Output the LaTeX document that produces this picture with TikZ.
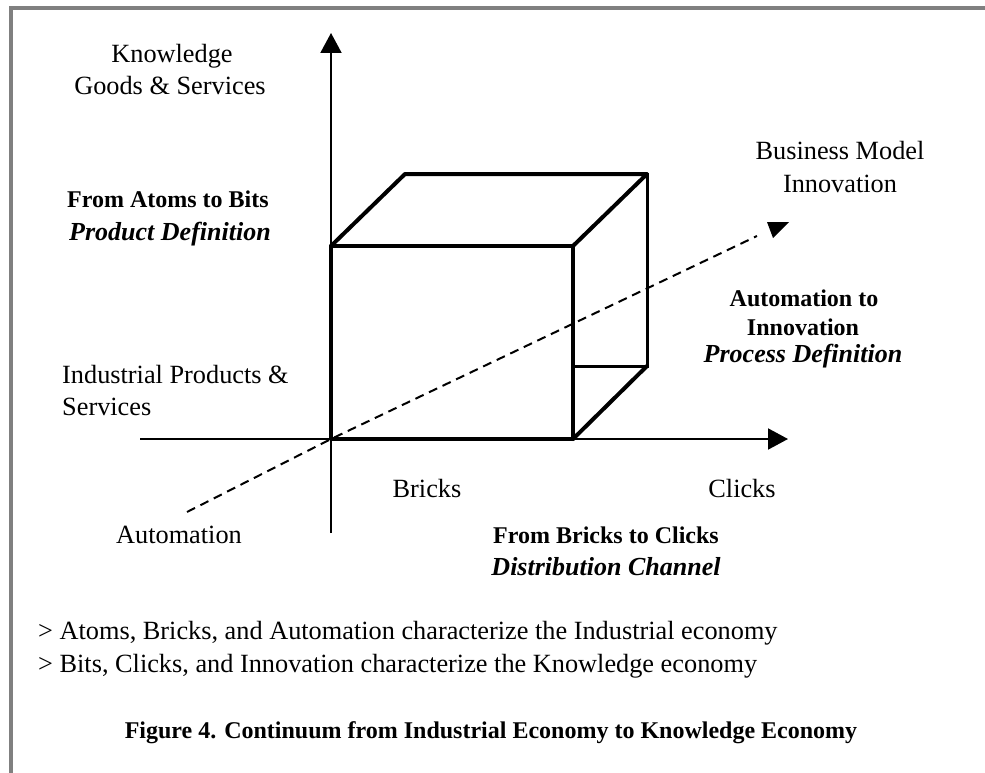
\documentclass[tikz,border=0pt]{standalone}
\usepackage{fontspec}
\setmainfont{Liberation Serif}
\usetikzlibrary{arrows.meta}
\definecolor{framegray}{RGB}{128,128,128}
\tikzset{
	axisarrow/.style={line width=2pt,-{Triangle[width=21pt,length=20pt]}},
	cubeedge/.style={line width=4pt,line cap=round,line join=round},
	cubeback/.style={line width=3pt,line cap=round},
	plainlabel/.style={inner sep=0pt,anchor=base,font=\fontsize{26.3}{31}\selectfont},
	boldlabel/.style={inner sep=0pt,anchor=base,font=\fontsize{24}{31}\selectfont\bfseries},
	italiclabel/.style={inner sep=0pt,anchor=base,font=\fontsize{26}{31}\selectfont\bfseries\itshape},
}

\begin{document}
\begin{tikzpicture}[x=1pt,y=-1pt]
				\useasboundingbox (0,0) rectangle (985,773);
				\draw[framegray,line width=4pt] (11,773) -- (11,8) -- (985,8);
				\coordinate (O) at (331,439);
				\coordinate (ytip) at (331,33);
				\coordinate (ybot) at (331,533);
				\coordinate (xleft) at (140,439);
				\coordinate (xtip) at (788,439);
				\coordinate (fbr) at (573,439);
				\coordinate (ftr) at (573,246);
				\coordinate (ftl) at (331,246);
				\coordinate (btl) at (405,174);
				\coordinate (btr) at (647,174);
				\coordinate (bbr) at (647,366);
				\coordinate (mid) at (573,366);
				\coordinate (autostart) at (187,512);
				\coordinate (innoend) at (757,236);
				\draw[axisarrow] (ybot) -- (ytip);
				\draw[axisarrow] (xleft) -- (xtip);
				\draw[cubeedge] (O) rectangle (ftr);
				\draw[cubeedge] (ftl) -- (btl) -- (btr) -- (ftr);
				\draw[cubeedge] (fbr) -- (bbr);
				\draw[cubeback] (btr) -- (bbr) -- (mid);
				\draw[line width=2pt,dash pattern=on 9pt off 6pt] (autostart) -- (O) -- (innoend);
				\fill (767,222) -- (789,222) -- (773,238) -- cycle;
				\node[plainlabel] (know1) at (172,63) {Knowledge};
				\node[plainlabel] (know2) at (170,95) {Goods \& Services};
				\node[boldlabel] (atoms) at (168,207) {From Atoms to Bits};
				\node[italiclabel] (product) at (170,240) {Product Definition};
				\node[plainlabel,anchor=base west] (indus1) at (62,383) {Industrial Products \&};
				\node[plainlabel,anchor=base west] (indus2) at (62,415) {Services};
				\node[plainlabel] (bmi1) at (840,160) {Business Model};
				\node[plainlabel] (bmi2) at (840,192) {Innovation};
				\node[boldlabel] (ai1) at (804,306) {Automation to};
				\node[boldlabel] (ai2) at (803,335) {Innovation};
				\node[italiclabel] (process) at (803,362) {Process Definition};
				\node[plainlabel] (bricks) at (427,497) {Bricks};
				\node[plainlabel] (clicks) at (742,497) {Clicks};
				\node[plainlabel] (automation) at (179,543) {Automation};
				\node[boldlabel] (bc) at (606,543) {From Bricks to Clicks};
				\node[italiclabel] (channel) at (606,575) {Distribution Channel};
				\node[plainlabel,anchor=base west] (note1) at (38,639) {> Atoms, Bricks, and Automation characterize the Industrial economy};
				\node[plainlabel,anchor=base west] (note2) at (38,672) {> Bits, Clicks, and Innovation characterize the Knowledge economy};
				\node[boldlabel] (caption) at (491,738) {Figure 4. Continuum from Industrial Economy to Knowledge Economy};
			\end{tikzpicture}
\end{document}
